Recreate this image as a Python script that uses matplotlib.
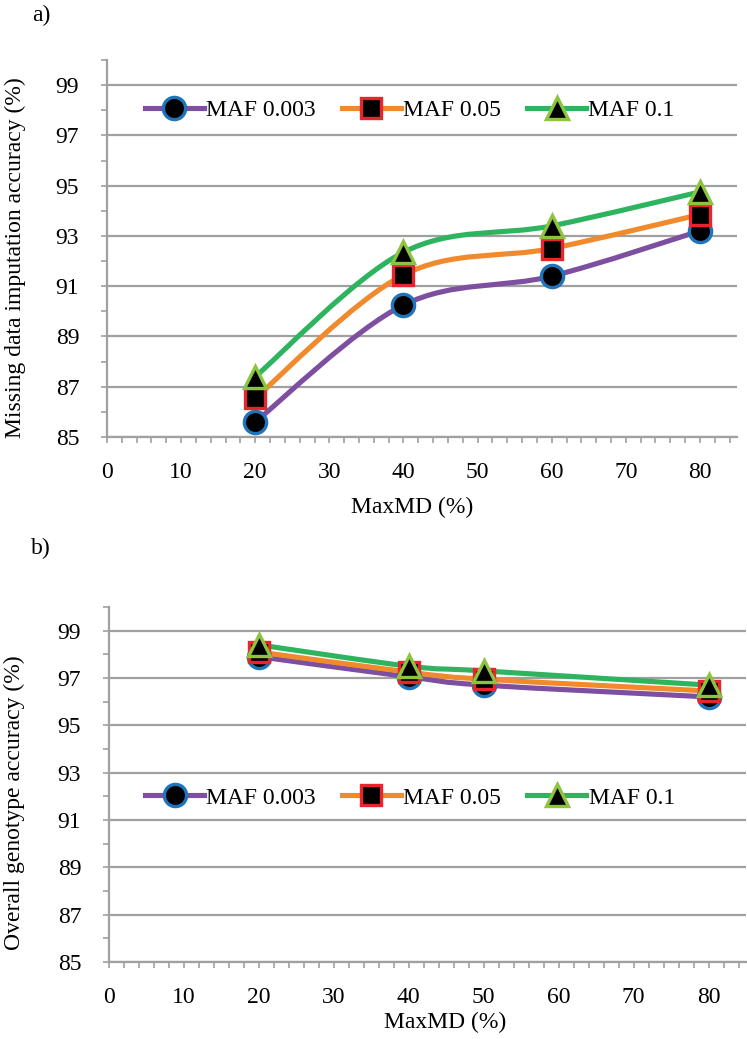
# -*- coding: UTF-8 -*-
import numpy as numpy
import matplotlib
matplotlib.use('Agg')
import matplotlib.pyplot as plt
from matplotlib.path import Path
from matplotlib.patches import PathPatch
from matplotlib.lines import Line2D
from matplotlib.ticker import MultipleLocator, FixedLocator

# data
series_names = ['MAF 0.003', 'MAF 0.05', 'MAF 0.1']
maxmd_a = [20, 40, 60, 80]
imput_003 = [85.6, 90.25, 91.4, 93.2]
imput_005 = [86.55, 91.45, 92.5, 93.85]
imput_01 = [87.4, 92.35, 93.4, 94.75]
maxmd_b = [20, 40, 50, 80]
geno_003 = [97.9, 97.05, 96.7, 96.2]
geno_005 = [98.1, 97.25, 96.95, 96.45]
geno_01 = [98.4, 97.5, 97.3, 96.7]

line_colors = ['#7E4FA1', '#F08A2C', '#2EB45E']
edge_colors = ['#1F75BB', '#E6262B', '#8CC43F']
markers = ['o', 's', '^']
msizes = [16, 15, 16]

plt.rcParams['font.family'] = ['Liberation Serif', 'DejaVu Serif']
plt.rcParams['font.size'] = 17
grey = '#A0A0A0'


def smooth_path(x, y):
    # excel style smoothed line, bezier through the points
    p = numpy.column_stack([x, y]).astype(float)
    n = len(p)
    verts = [p[0]]
    codes = [Path.MOVETO]
    for i in range(n - 1):
        pm = p[i - 1] if i > 0 else p[i]
        pp = p[i + 2] if i + 2 < n else p[i + 1]
        c1 = p[i] + (p[i + 1] - pm) / 6.0
        c2 = p[i + 1] - (pp - p[i]) / 6.0
        verts += [c1, c2, p[i + 1]]
        codes += [Path.CURVE4] * 3
    return Path(verts, codes)


def draw_panel(axe, x, ys, xlabel, ylabel, leg_anchor, xlab_pos, ylab_pos):
    for k, y in enumerate(ys):
        patch = PathPatch(smooth_path(x, y), facecolor='none', edgecolor=line_colors[k],
                          lw=3.7, capstyle='round', joinstyle='round', zorder=3)
        axe.add_patch(patch)
    for k, y in enumerate(ys):
        axe.plot(x, y, linestyle='none', marker=markers[k], ms=msizes[k], mfc='black',
                 mec=edge_colors[k], mew=2.4, zorder=4 + k)
    axe.set_xlim(0, 85)
    axe.set_ylim(85, 100)
    axe.xaxis.set_major_locator(MultipleLocator(10))
    axe.xaxis.set_minor_locator(MultipleLocator(2))
    axe.yaxis.set_major_locator(FixedLocator(numpy.arange(85, 100, 2)))
    axe.yaxis.set_minor_locator(MultipleLocator(1))
    axe.grid(axis='y', which='major', color=grey, lw=1.6, zorder=0)
    axe.set_axisbelow(True)
    for s in ['top', 'right']:
        axe.spines[s].set_visible(False)
    for s in ['left', 'bottom']:
        axe.spines[s].set_color(grey)
        axe.spines[s].set_linewidth(1.6)
    axe.tick_params(which='both', direction='out', length=4, width=1.2, color=grey)
    axe.tick_params(axis='x', which='both', pad=14)
    axe.tick_params(axis='y', which='both', pad=16)
    axe.set_xlabel(xlabel, va='center')
    axe.set_ylabel(ylabel, va='center')
    axe.xaxis.set_label_coords(*xlab_pos)
    axe.yaxis.set_label_coords(*ylab_pos)
    handles = [Line2D([0], [0], color=line_colors[k], lw=3.7, marker=markers[k],
                      ms=msizes[k], mfc='black', mec=edge_colors[k], mew=2.4)
               for k in range(3)]
    axe.legend(handles, series_names, loc='center left', bbox_to_anchor=leg_anchor,
               ncol=3, frameon=False, borderpad=0, borderaxespad=0, handlelength=2.5,
               handletextpad=0.1, columnspacing=1.1)


fig = plt.figure(figsize=(7.47, 10.39), dpi=100)
W, H = 747.0, 1039.0
ax1 = fig.add_axes([107 / W, 1 - 437 / H, (737 - 107) / W, (437 - 60) / H])
ax2 = fig.add_axes([109 / W, 1 - 962 / H, (746 - 109) / W, (962 - 607) / H])

draw_panel(ax1, maxmd_a, [imput_003, imput_005, imput_01], 'MaxMD (%)',
           'Missing data imputation accuracy (%)', (0.06, 0.867),
           (0.484, -0.186), (-0.146, 0.475))
draw_panel(ax2, maxmd_b, [geno_003, geno_005, geno_01], 'MaxMD (%)',
           'Overall genotype accuracy (%)', (0.0565, 0.462),
           (0.527, -0.169), (-0.148, 0.45))

fig.text(41 / W, 1 - 15 / H, 'a)', ha='center', va='center')
fig.text(41 / W, 1 - 548 / H, 'b)', ha='center', va='center')

fig.savefig('out.png', dpi=100)
plt.close()
